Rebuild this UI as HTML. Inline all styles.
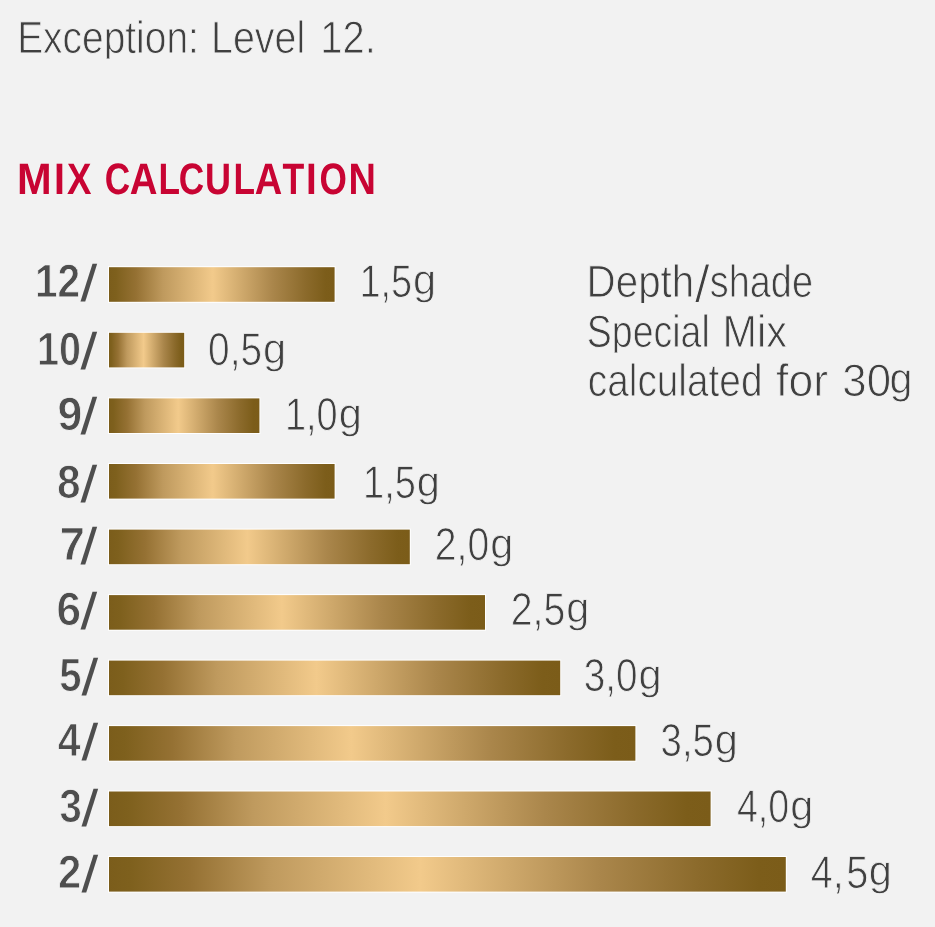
<!DOCTYPE html>
<html lang="en"><head><meta charset="utf-8"><title>Mix calculation</title>
<style>
html,body{margin:0;padding:0;background:#f2f2f2;}
body{width:935px;height:927px;overflow:hidden;font-family:"Liberation Sans",sans-serif;}
svg{display:block;will-change:transform;}
text{font-family:"Liberation Sans",sans-serif;stroke:#f2f2f2;stroke-linejoin:round;text-rendering:geometricPrecision;}
.lt{font-weight:400;fill:#404040;stroke-width:0.90;}
.bd{font-weight:700;fill:#4e4e4e;stroke-width:0.90;}
.hd{font-weight:700;fill:#c80433;stroke:none;}
.sl{font-weight:400;fill:#4e4e4e;stroke:none;}
.bar{fill:url(#gold);stroke:#fff;stroke-width:2;paint-order:stroke;}
</style></head>
<body>
<svg width="935" height="927" viewBox="0 0 935 927">
<defs><linearGradient id="gold" x1="0" y1="0" x2="1" y2="0"><stop offset="0" stop-color="#7b5d1b"/><stop offset="0.03" stop-color="#7e601d"/><stop offset="0.12" stop-color="#957133"/><stop offset="0.24" stop-color="#bf9a5e"/><stop offset="0.46" stop-color="#f2ca8b"/><stop offset="0.725" stop-color="#aa864b"/><stop offset="0.873" stop-color="#8b6a2b"/><stop offset="0.96" stop-color="#7c5d1a"/><stop offset="1" stop-color="#7b5c19"/></linearGradient>
<clipPath id="c1"><rect x="0" y="0" width="935" height="58.6"/></clipPath>
<clipPath id="c2"><rect x="0" y="0" width="935" height="302.9"/></clipPath>
<clipPath id="c3"><rect x="0" y="0" width="935" height="352.4"/></clipPath></defs>
<rect width="935" height="927" fill="#f2f2f2"/>
<g id="note">
  <g clip-path="url(#c1)"><text class="lt" transform="translate(17.14 53.00) scale(0.8552 1)" font-size="45.51">Exception:</text></g>
  <text class="lt" transform="translate(211.00 53.00) scale(0.8659 1)" font-size="45.51">Level</text>
  <text class="lt" transform="translate(320.26 53.00) scale(0.8773 1)" font-size="45.51">12.</text>
</g>
<g id="heading-mix">
  <text class="hd" transform="translate(16.90 194.00) scale(0.9439 1)" font-size="44.03">M</text>
  <text class="hd" transform="translate(53.94 194.00) scale(0.8934 1)" font-size="44.03">I</text>
  <text class="hd" transform="translate(66.92 194.00) scale(0.8322 1)" font-size="44.03">X</text>
</g>
<g id="heading-calculation">
  <text class="hd" transform="translate(104.66 194.00) scale(0.8000 1)" font-size="44.03">C</text>
  <text class="hd" transform="translate(129.83 194.00) scale(0.8718 1)" font-size="44.03">A</text>
  <text class="hd" transform="translate(158.40 194.00) scale(0.8000 1)" font-size="44.03">L</text>
  <text class="hd" transform="translate(178.76 194.00) scale(0.8000 1)" font-size="44.03">C</text>
  <text class="hd" transform="translate(204.94 194.00) scale(0.8184 1)" font-size="44.03">U</text>
  <text class="hd" transform="translate(233.40 194.00) scale(0.8000 1)" font-size="44.03">L</text>
  <text class="hd" transform="translate(254.84 194.00) scale(0.8651 1)" font-size="44.03">A</text>
  <text class="hd" transform="translate(282.44 194.00) scale(0.8092 1)" font-size="44.03">T</text>
  <text class="hd" transform="translate(305.99 194.00) scale(0.8782 1)" font-size="44.03">I</text>
  <text class="hd" transform="translate(319.56 194.00) scale(0.8000 1)" font-size="44.03">O</text>
  <text class="hd" transform="translate(348.43 194.00) scale(0.8623 1)" font-size="44.03">N</text>
</g>
<g id="row-12">
  <text class="bd" transform="translate(35.01 297.00) scale(0.8709 1)" font-size="46.67">12</text>
  <text class="sl" transform="translate(80.40 300.93) scale(1.3636 1.1671)" font-size="44.00">/</text>
  <rect class="bar" x="109.0" y="267.2" width="225.6" height="34.6"/>
  <text class="lt" transform="translate(359.51 297.00) scale(0.8252 1)" font-size="45.94">1,5</text>
  <text class="lt" transform="translate(413.09 294.47) scale(0.9441 0.9606)" font-size="44.00">g</text>
</g>
<g id="row-10">
  <text class="bd" transform="translate(36.88 365.00) scale(0.8477 1)" font-size="46.67">10</text>
  <text class="sl" transform="translate(80.40 368.93) scale(1.3636 1.1671)" font-size="44.00">/</text>
  <rect class="bar" x="109.0" y="332.8" width="75.2" height="34.6"/>
  <text class="lt" transform="translate(208.09 365.00) scale(0.8448 1)" font-size="45.94">0,5</text>
  <text class="lt" transform="translate(262.89 362.97) scale(0.9441 0.9606)" font-size="44.00">g</text>
</g>
<g id="row-9">
  <text class="bd" transform="translate(57.61 430.00) scale(0.9577 1)" font-size="46.67">9</text>
  <text class="sl" transform="translate(80.40 433.93) scale(1.3636 1.1671)" font-size="44.00">/</text>
  <rect class="bar" x="109.0" y="398.4" width="150.4" height="34.6"/>
  <text class="lt" transform="translate(284.91 430.00) scale(0.8254 1)" font-size="45.94">1,0</text>
  <text class="lt" transform="translate(338.69 427.87) scale(0.9441 0.9606)" font-size="44.00">g</text>
</g>
<g id="row-8">
  <text class="bd" transform="translate(56.98 498.00) scale(0.9086 1)" font-size="46.67">8</text>
  <text class="sl" transform="translate(80.40 502.03) scale(1.3636 1.1671)" font-size="44.00">/</text>
  <rect class="bar" x="109.0" y="464.0" width="225.6" height="34.6"/>
  <text class="lt" transform="translate(363.00 498.00) scale(0.8269 1)" font-size="45.94">1,5</text>
  <text class="lt" transform="translate(416.69 495.67) scale(0.9441 0.9606)" font-size="44.00">g</text>
</g>
<g id="row-7">
  <text class="bd" transform="translate(59.42 560.00) scale(0.9789 1)" font-size="46.67">7</text>
  <text class="sl" transform="translate(80.40 564.03) scale(1.3636 1.1671)" font-size="44.00">/</text>
  <rect class="bar" x="109.0" y="529.6" width="300.8" height="34.6"/>
  <text class="lt" transform="translate(434.79 560.00) scale(0.8530 1)" font-size="45.94">2,0</text>
  <text class="lt" transform="translate(490.29 557.57) scale(0.9441 0.9606)" font-size="44.00">g</text>
</g>
<g id="row-6">
  <text class="bd" transform="translate(56.40 625.00) scale(0.9499 1)" font-size="46.67">6</text>
  <text class="sl" transform="translate(80.40 628.83) scale(1.3636 1.1671)" font-size="44.00">/</text>
  <rect class="bar" x="109.0" y="595.1" width="376.0" height="34.6"/>
  <text class="lt" transform="translate(510.79 625.00) scale(0.8546 1)" font-size="45.94">2,5</text>
  <text class="lt" transform="translate(566.19 622.37) scale(0.9441 0.9606)" font-size="44.00">g</text>
</g>
<g id="row-5">
  <text class="bd" transform="translate(59.14 691.00) scale(0.8614 1)" font-size="46.67">5</text>
  <text class="sl" transform="translate(81.40 695.03) scale(1.3636 1.1671)" font-size="44.00">/</text>
  <rect class="bar" x="109.0" y="660.6" width="451.2" height="34.6"/>
  <text class="lt" transform="translate(583.70 691.00) scale(0.8416 1)" font-size="45.94">3,0</text>
  <text class="lt" transform="translate(638.49 688.77) scale(0.9441 0.9606)" font-size="44.00">g</text>
</g>
<g id="row-4">
  <text class="bd" transform="translate(57.63 756.00) scale(0.8810 1)" font-size="46.67">4</text>
  <text class="sl" transform="translate(81.40 759.93) scale(1.3636 1.1671)" font-size="44.00">/</text>
  <rect class="bar" x="109.0" y="726.1" width="526.4" height="34.6"/>
  <text class="lt" transform="translate(660.61 756.00) scale(0.8349 1)" font-size="45.94">3,5</text>
  <text class="lt" transform="translate(714.79 753.87) scale(0.9441 0.9606)" font-size="44.00">g</text>
</g>
<g id="row-3">
  <text class="bd" transform="translate(59.55 822.00) scale(0.8614 1)" font-size="46.67">3</text>
  <text class="sl" transform="translate(81.40 826.03) scale(1.3636 1.1671)" font-size="44.00">/</text>
  <rect class="bar" x="109.0" y="791.5" width="601.6" height="34.6"/>
  <text class="lt" transform="translate(736.90 822.00) scale(0.8175 1)" font-size="45.94">4,0</text>
  <text class="lt" transform="translate(790.19 819.77) scale(0.9441 0.9606)" font-size="44.00">g</text>
</g>
<g id="row-2">
  <text class="bd" transform="translate(58.09 888.00) scale(0.8965 1)" font-size="46.67">2</text>
  <text class="sl" transform="translate(81.40 892.03) scale(1.3636 1.1671)" font-size="44.00">/</text>
  <rect class="bar" x="109.0" y="857.0" width="676.8" height="34.6"/>
  <text class="lt" transform="translate(810.66 888.00) scale(0.8633 1)" font-size="45.94">4,</text>
  <text class="lt" transform="translate(846.36 888.00) scale(0.8661 1)" font-size="45.94">5</text>
  <text class="lt" transform="translate(868.79 885.27) scale(0.9441 0.9606)" font-size="44.00">g</text>
</g>
<g id="legend">
  <g clip-path="url(#c2)"><text class="lt" transform="translate(586.62 297.00) scale(0.8860 1)" font-size="45.51">Depth</text></g>
  <text class="lt" transform="translate(694.75 301.56) scale(1.2175 1.1916)" font-size="44.00">/</text>
  <text class="lt" transform="translate(709.80 297.00) scale(0.8324 1)" font-size="45.51">shade</text>
  <g clip-path="url(#c3)"><text class="lt" transform="translate(586.86 347.00) scale(0.8235 1)" font-size="45.51">Special</text></g>
  <text class="lt" transform="translate(722.54 347.00) scale(0.9089 1)" font-size="45.51">Mix</text>
  <text class="lt" transform="translate(587.80 396.00) scale(0.8527 1)" font-size="45.51">calculated</text>
  <text class="lt" transform="translate(776.11 396.00) scale(0.9777 1)" font-size="45.51">for</text>
  <text class="lt" transform="translate(842.32 396.00) scale(0.9624 1)" font-size="45.51">30</text>
  <text class="lt" transform="translate(889.40 393.01) scale(0.9391 0.9788)" font-size="44.00">g</text>
</g>
</svg>
</body></html>
